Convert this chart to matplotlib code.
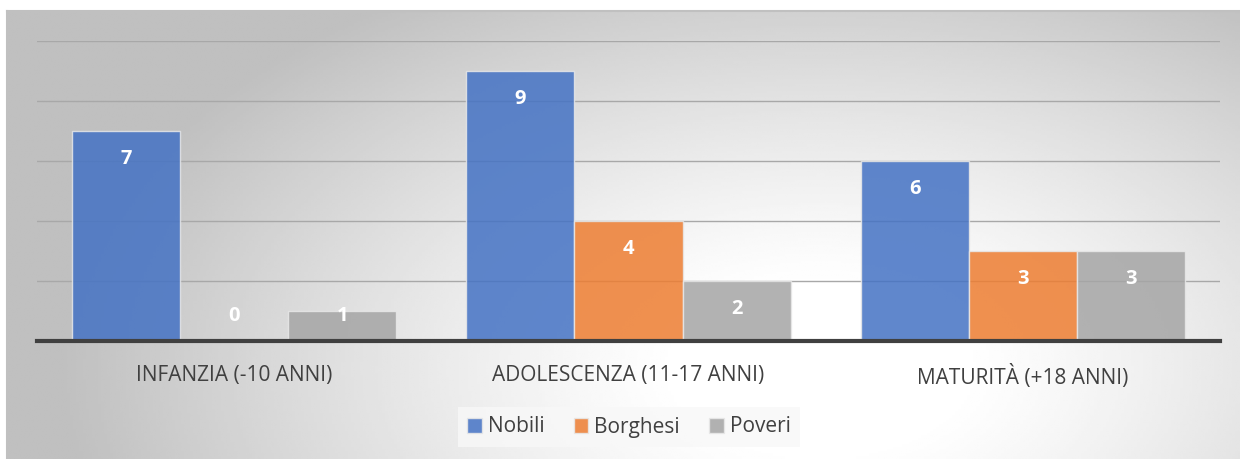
import numpy as np
import matplotlib.pyplot as plt
from matplotlib.patches import Patch

categories = ['INFANZIA (-10 ANNI)', 'ADOLESCENZA (11-17 ANNI)', 'MATURITÀ (+18 ANNI)']
series = ['Nobili', 'Borghesi', 'Poveri']
nobili = [7, 9, 6]
borghesi = [0, 4, 3]
poveri = [1, 2, 3]
colors = ['#4472C4', '#ED7D31', '#A5A5A5']

plt.rcParams['font.family'] = ['Open Sans', 'DejaVu Sans']

W, H = 1240, 459
fig = plt.figure(figsize=(W / 100, H / 100), dpi=100)

# radial grey background of the chart box
bg = fig.add_axes([7 / W, 0, 1 - 7 / W, (H - 11) / H], zorder=-5)
xx, yy = np.meshgrid(np.linspace(0, 1, 400), np.linspace(0, 1, 200))
d = np.sqrt(((xx - 0.66) / 0.62) ** 2 + ((yy - 0.8) / 1.0) ** 2)
d = np.clip((d - 0.18) / 0.82, 0, 1)
shade = 1.0 - 0.25 * d ** 1.2
bg.imshow(shade, cmap='gray', vmin=0, vmax=1, aspect='auto', extent=[0, 1, 0, 1],
          origin='upper', interpolation='bilinear')
bg.set_xticks([])
bg.set_yticks([])
for s in ['right', 'bottom']:
    bg.spines[s].set_visible(False)
for s in ['left', 'top']:
    bg.spines[s].set_color('#c0c0c0')
    bg.spines[s].set_linewidth(1.5)

ax = fig.add_axes([37 / W, (H - 341) / H, 1183 / W, 300 / H])
ax.patch.set_alpha(0)

x = np.arange(len(categories))
w = 0.274
data = [nobili, borghesi, poveri]
for i, (vals, c) in enumerate(zip(data, colors)):
    pos = x + (i - 1) * w
    ax.bar(pos, vals, width=w, color=c, alpha=0.85, edgecolor='#e8e8e8', linewidth=1, zorder=3)
    for px, v in zip(pos, vals):
        ax.text(px, max(v - 0.93, 0.83), str(v), ha='center', va='center',
                color='white', fontsize=14.5, fontweight='bold', zorder=4)

ax.set_xlim(-0.5, 2.5)
ax.set_ylim(0, 10)
ax.set_yticks([2, 4, 6, 8, 10])
ax.yaxis.grid(True, color='#a8a8a8', linewidth=1)
ax.set_axisbelow(True)
ax.tick_params(axis='y', left=False, labelleft=False)
ax.set_xticks(x)
ax.set_xticklabels(categories, fontsize=15, color='#404040')
ax.tick_params(axis='x', length=0, pad=17)
for s in ['left', 'right', 'top']:
    ax.spines[s].set_visible(False)
ax.spines['bottom'].set_color('#404040')
ax.spines['bottom'].set_linewidth(3)
ax.spines['bottom'].set_zorder(5)

handles = [Patch(facecolor=c, alpha=0.85, edgecolor='#e8e8e8') for c in colors]
leg = fig.legend(handles, series, loc='center', bbox_to_anchor=(629 / W, (H - 427) / H),
                 ncol=3, frameon=True, fontsize=15, handlelength=0.7, handleheight=0.7,
                 handletextpad=0.3, columnspacing=1.4, borderpad=0.45, fancybox=False)
leg.get_frame().set_facecolor('#f8f8f8')
leg.get_frame().set_edgecolor('none')
for t in leg.get_texts():
    t.set_color('#404040')

fig.savefig('out.png', dpi=100)
